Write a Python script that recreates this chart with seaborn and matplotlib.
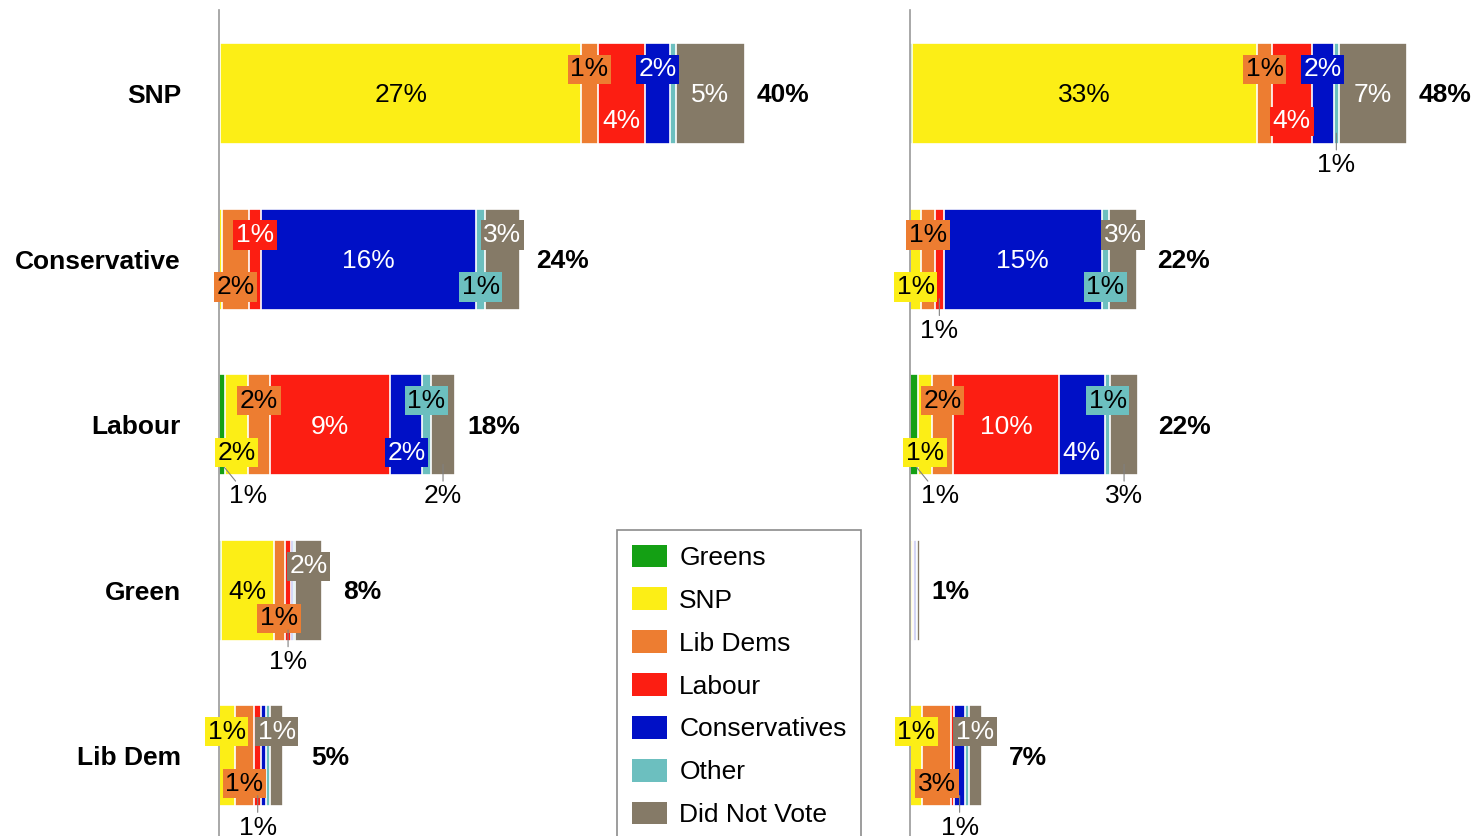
import matplotlib
matplotlib.use("Agg")
import matplotlib.pyplot as plt
from matplotlib.patches import Patch
import numpy as np
import seaborn as sns

# ── data ─────────────────────────────────────────────────────
rows    = ["SNP", "Conservative", "Labour", "Green", "Lib Dem"]
parties = ["Greens", "SNP", "Lib Dems", "Labour", "Conservatives", "Other", "Did Not Vote"]

left_values = [
    [0.15, 27.3, 1.3, 3.55, 1.9, 0.45, 5.2],
    [0.0, 0.3, 2.0, 0.94, 16.3, 0.64, 2.63],
    [0.53, 1.7, 1.67, 9.13, 2.39, 0.66, 1.86],
    [0.2, 3.98, 0.83, 0.52, 0.1, 0.15, 2.08],
    [0.0, 1.23, 1.48, 0.52, 0.38, 0.3, 0.98],
]
right_values = [
    [0.1, 33.45, 1.42, 3.82, 2.13, 0.53, 6.58],
    [0.0, 1.0, 1.36, 0.86, 15.28, 0.66, 2.78],
    [0.73, 1.35, 2.05, 10.21, 4.45, 0.55, 2.63],
    [0.0, 0.1, 0.1, 0.1, 0.25, 0.05, 0.3],
    [0.0, 1.16, 2.8, 0.29, 1.0, 0.39, 1.23],
]
left_totals  = [40, 24, 18, 8, 5]
right_totals = [48, 22, 22, 1, 7]

# label placement: c=centre, t=top box, b=bottom box, l=below with leader
left_places = [
    ["", "c", "t", "b", "t", "", "c"],
    ["", "", "b", "t", "c", "b", "t"],
    ["l", "b", "t", "c", "b", "t", "l"],
    ["", "c", "b", "l", "", "", "t"],
    ["", "t", "b", "l", "", "", "t"],
]
right_places = [
    ["", "c", "t", "b", "t", "l", "c"],
    ["", "b", "t", "l", "c", "b", "t"],
    ["l", "b", "t", "c", "b", "t", "l"],
    ["", "", "", "", "", "", ""],
    ["", "t", "b", "", "l", "", "t"],
]
# gap (px) between bar end and the total label
left_gaps  = [12, 17, 12, 21, 28]
right_gaps = [11, 20, 20, 12, 27]

colors      = ["#14A014", "#FCEE16", "#ED7D31", "#FC1E12", "#0010C6", "#6CBFBF", "#857A67"]
text_colors = ["black", "black", "black", "white", "white", "black", "white"]

sns.set_style("white")
plt.rcParams["font.family"] = ["Liberation Sans", "DejaVu Sans"]
plt.rcParams["text.color"] = "black"
plt.rcParams["ytick.labelcolor"] = "black"
FS = 19
DY = 0.012  # nudge text down a touch

fig = plt.figure(figsize=(14.71, 8.36), dpi=100)
W, H = 1471, 836
ax_l = fig.add_axes([218.5 / W, 0, 660 / W, 826 / H])
ax_r = fig.add_axes([910.5 / W, 0, 560.5 / W, 826 / H])


def draw_panel(ax, values, totals, places, gaps, xmax):
    vals = np.array(values)
    cum = np.cumsum(vals, axis=1)
    # stacked bars: draw cumulative sums from the right-most segment inwards
    for j in range(len(parties) - 1, -1, -1):
        sns.barplot(x=cum[:, j], y=rows, orient="h", color=colors[j], saturation=1,
                    width=0.61, edgecolor="white", linewidth=1.2, errorbar=None, ax=ax)
    for i, row in enumerate(values):
        left = 0
        for j, v in enumerate(row):
            xc = left + v / 2
            p = places[i][j]
            txt = f"{int(v + 0.5)}%"
            if p == "c":
                ax.text(xc, i + DY, txt, ha="center", va="center", fontsize=FS,
                        color=text_colors[j], zorder=5)
            elif p == "t" or p == "b":
                y = i - 0.157 if p == "t" else i + 0.157
                ax.text(xc, y + DY, txt, ha="center", va="center", fontsize=FS,
                        color=text_colors[j], zorder=5,
                        bbox=dict(boxstyle="square,pad=0.1", fc=colors[j], ec="none"))
            elif p == "l":
                ax.annotate(txt, xy=(xc, i + 0.24), xytext=(26 if j == 0 else 0, -20),
                            textcoords="offset pixels", ha="center", va="top",
                            fontsize=FS, color="black", zorder=5,
                            arrowprops=dict(arrowstyle="-", color="#808080", lw=0.8,
                                            shrinkA=0, shrinkB=0))
            left += v
        ax.annotate(f"{totals[i]}%", xy=(left, i + DY), xytext=(gaps[i], 0),
                    textcoords="offset pixels", ha="left", va="center",
                    fontsize=FS, fontweight="bold", color="black")
    ax.set_xlim(0, xmax)
    ax.set_ylim(4.484, -0.504)
    ax.set_xticks([])
    ax.set_xlabel("")
    ax.set_ylabel("")
    for s in ["top", "right", "bottom"]:
        ax.spines[s].set_visible(False)
    ax.spines["left"].set_color("#999999")
    ax.spines["left"].set_linewidth(1.2)
    ax.patch.set_alpha(0)


draw_panel(ax_l, left_values, left_totals, left_places, left_gaps, 660 / 13.2)
draw_panel(ax_r, right_values, right_totals, right_places, right_gaps, 560.5 / 10.34)

ax_l.set_yticks(range(len(rows)))
ax_l.set_yticklabels(rows, fontsize=FS, fontweight="bold", color="black")
ax_l.tick_params(axis="y", length=0, pad=27)
ax_r.set_yticks([])

handles = [Patch(facecolor=c, edgecolor="none") for c in colors]
leg = fig.legend(handles, parties, loc="upper left",
                 bbox_to_anchor=(617 / W, 1 - 530 / H), bbox_transform=fig.transFigure,
                 borderaxespad=0, frameon=True, fancybox=False, framealpha=1,
                 edgecolor="#8c8c8c", fontsize=FS, handlelength=1.36, handleheight=0.95,
                 handletextpad=0.45, labelspacing=0.66, borderpad=0.55)
leg.get_frame().set_linewidth(1.2)

fig.savefig("out.png", dpi=100)
plt.close(fig)
